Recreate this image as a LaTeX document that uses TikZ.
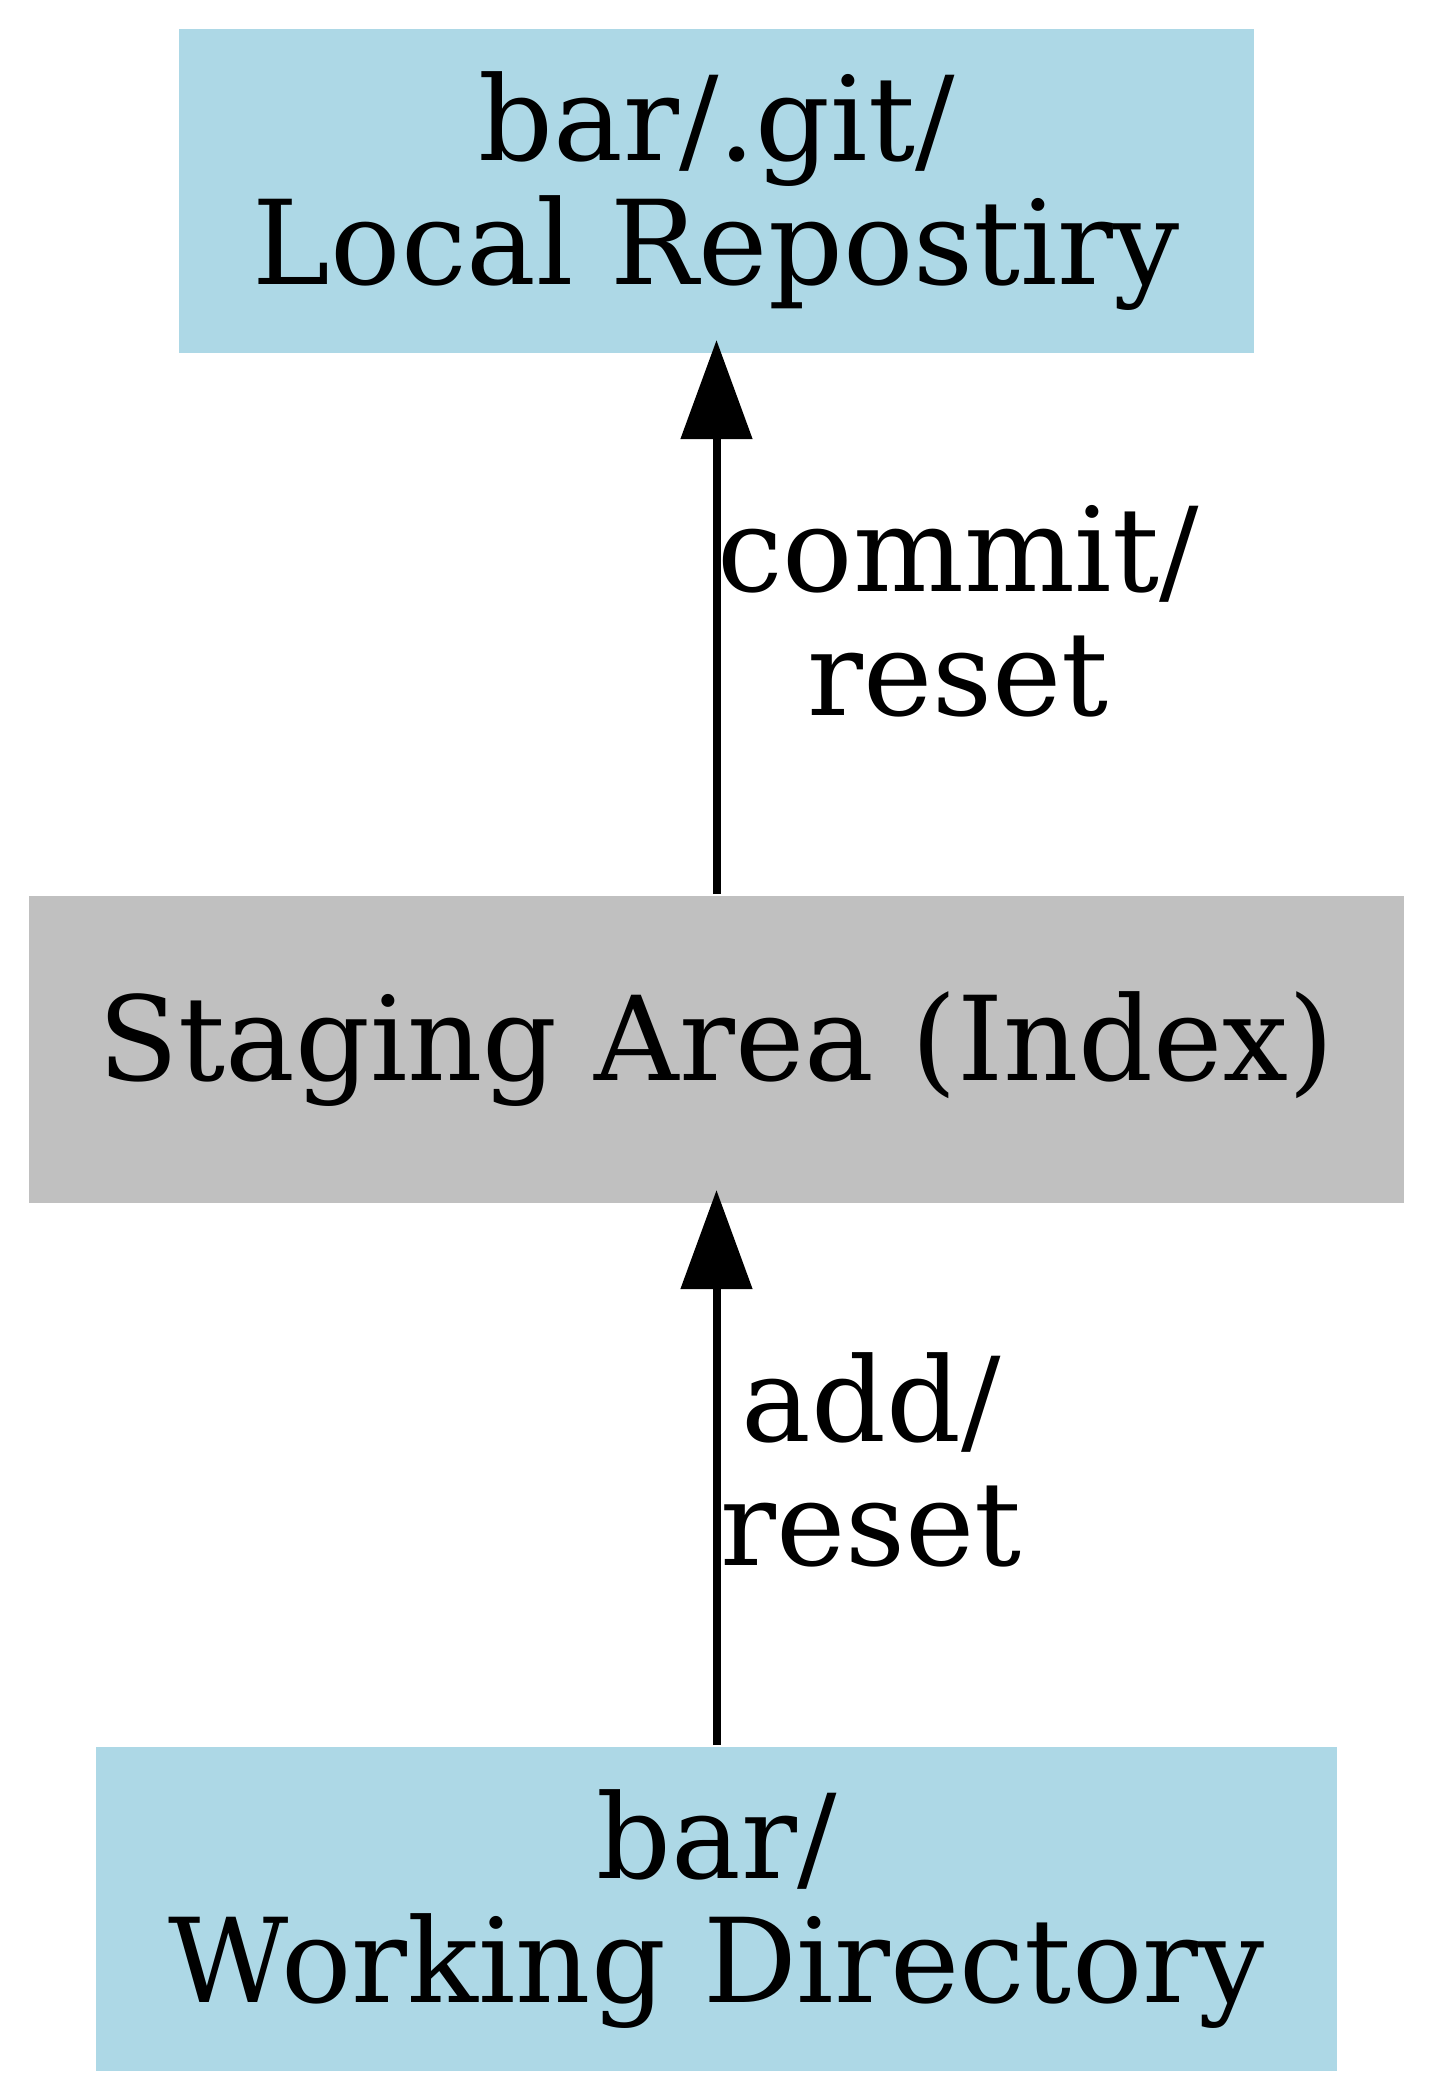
\documentclass[tikz,border=0pt]{standalone}
\usepackage{fontspec}
\setmainfont{DejaVu Serif}
\usetikzlibrary{arrows.meta}
\definecolor{boxblue}{HTML}{ADD8E6}
\definecolor{boxgray}{HTML}{C0C0C0}
\setlength{\lineskiplimit}{-20pt}
\newcommand{\mylabelfont}{\fontsize{11.7pt}{12.4pt}\selectfont}
\begin{document}
\begin{tikzpicture}[x=0.1pt,y=-0.1pt,
  txt/.style={font=\mylabelfont, align=center, inner sep=0pt},
  bluebox/.style={txt, fill=boxblue},
  graybox/.style={txt, fill=boxgray},
  arr/.style={line width=0.8pt, -{Triangle[length=9.9pt,width=7pt]}}]
\fill[white] (0,0) rectangle (1433,2100);
\useasboundingbox (0,0) rectangle (1433,2100);
\node[bluebox, minimum width=107.5pt, minimum height=32.4pt] (repo) at (716.5,191) {bar/.git/\\Local Repostiry};
\node[graybox, minimum width=137.5pt, minimum height=30.7pt] (stage) at (716.5,1049.5) {Staging Area (Index)};
\node[bluebox, minimum width=124.1pt, minimum height=32.4pt] (wd) at (716.5,1909) {bar/\\Working Directory};
\draw[arr] (stage.north) -- ([yshift=1.5pt]repo.south);
\draw[arr] (wd.north) -- ([yshift=1.5pt]stage.south);
\node[txt] (lcommit) at (958,611.5) {commit/\\reset};
\node[txt] (ladd) at (871,1459.5) {add/\\reset};
\end{tikzpicture}
\end{document}
